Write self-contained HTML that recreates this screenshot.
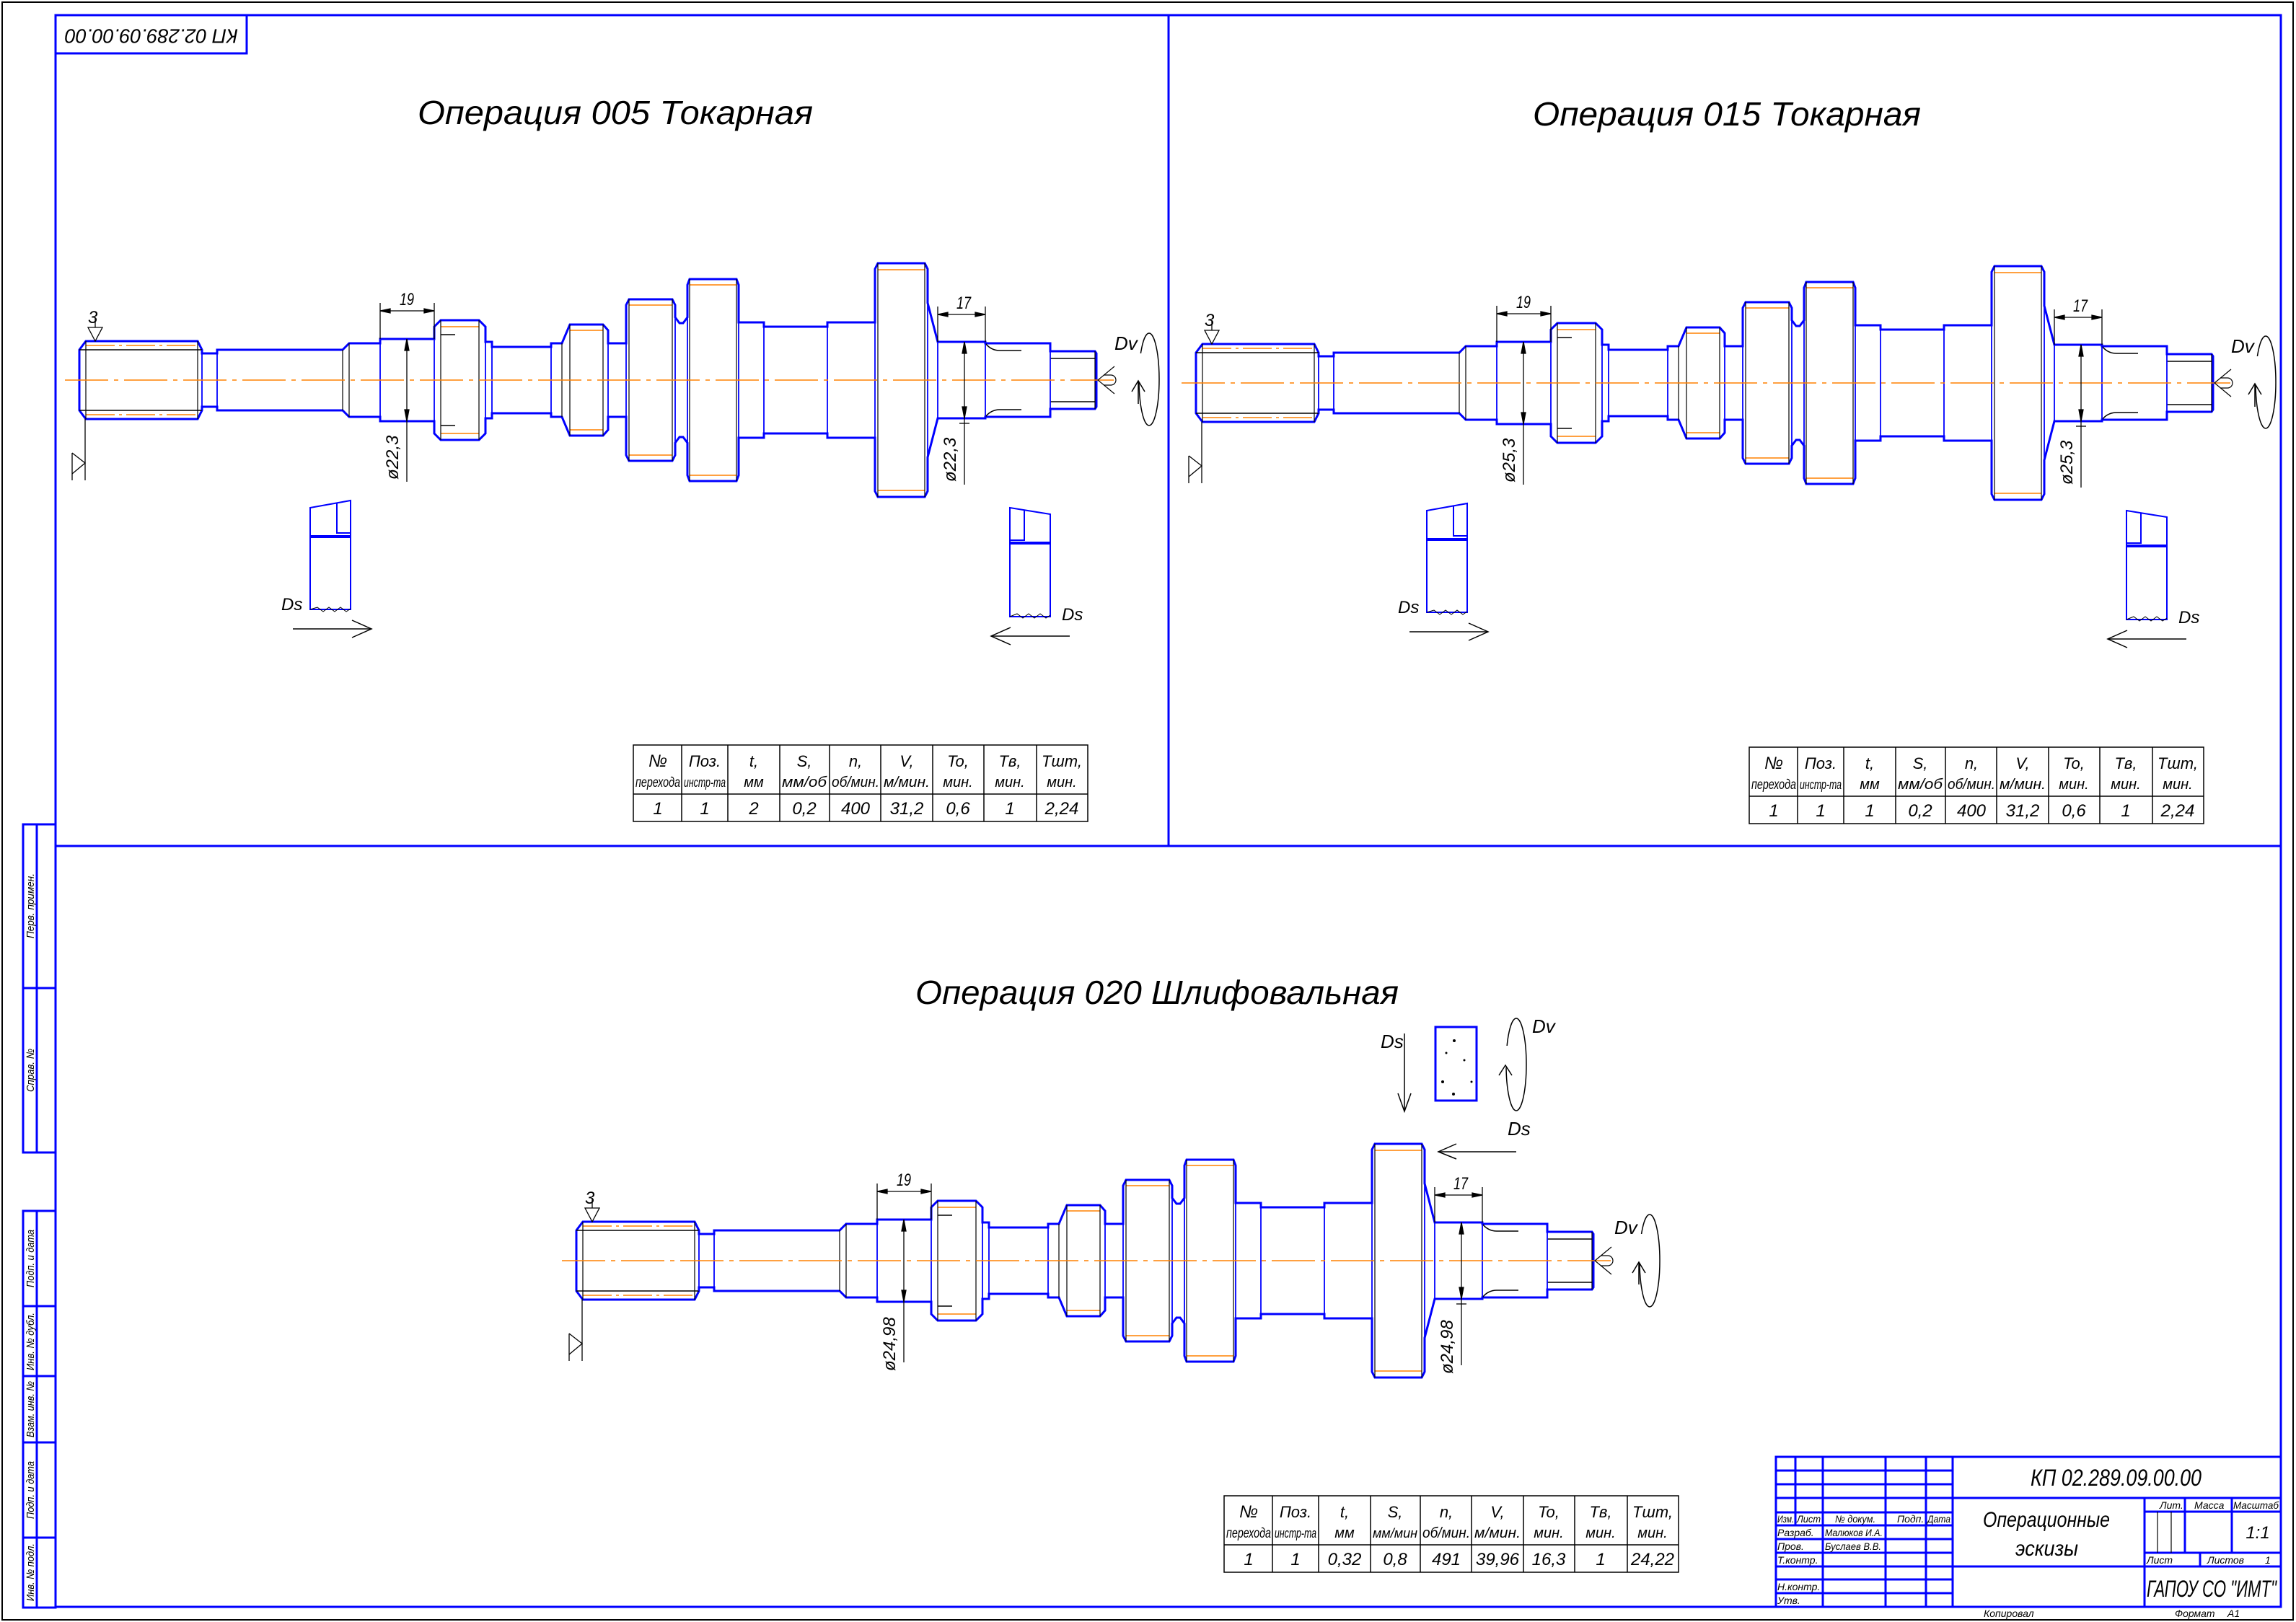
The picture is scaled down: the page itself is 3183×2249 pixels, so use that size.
<!DOCTYPE html>
<html><head><meta charset="utf-8"><style>
html,body{margin:0;padding:0;background:#fff}
svg{display:block}
text{font-family:"Liberation Sans","DejaVu Sans",sans-serif;font-style:italic;fill:#000}
</style></head><body>
<svg width="3183" height="2249" viewBox="0 0 3183 2249" xmlns="http://www.w3.org/2000/svg">
<defs>
<g id="half">
<polyline fill="none" stroke="#0000ff" stroke-width="3" stroke-linejoin="miter" points="110,527 110,485 119,473 274,473 280,485 280,490 301,490 301,485 475,485 484,476 527,476 527,470 602,470 602,453 611,444 664,444 673,453 673,474 682,474 682,481 764,481 764,476 779,476 790,450 836,450 843,458 843,476 868,476 868,423 872,415 932,415 936,423 936,440 942,448 947,448 953,440 953,395 956,387 1021,387 1024,395 1024,447 1059,447 1059,453 1147,453 1147,447 1213,447 1213,373 1217,365 1282,365 1286,373 1286,420 1300,474 1366,474 1366,476 1456,476 1456,487 1518,487 1520,490 1520,527"/>
<line x1="110" y1="485" x2="280" y2="485" stroke="#000" stroke-width="1.5"/>
<line x1="119" y1="479" x2="274" y2="479" stroke="#ff8000" stroke-width="1.5" stroke-dasharray="40,6,4,6"/>
<g stroke="#ff8000" stroke-width="1.5">
<line x1="611" y1="453" x2="664" y2="453"/><line x1="790" y1="458" x2="836" y2="458"/>
<line x1="872" y1="423" x2="932" y2="423"/><line x1="956" y1="395" x2="1021" y2="395"/>
<line x1="1217" y1="374" x2="1282" y2="374"/></g>
<line x1="611" y1="464" x2="631" y2="464" stroke="#000" stroke-width="1.5"/>
<path d="M1366,476 q8,10 20,10 h30" fill="none" stroke="#000" stroke-width="1.5"/>
<line x1="1456" y1="497" x2="1518" y2="497" stroke="#000" stroke-width="1.5"/>
</g>
<g id="shaft">
<use href="#half"/>
<use href="#half" transform="matrix(1 0 0 -1 0 1054)"/>
<g stroke="#000" stroke-width="1.2">
<line x1="119" y1="473" x2="119" y2="581"/><line x1="274" y1="473" x2="274" y2="581"/>
<line x1="475" y1="485" x2="475" y2="569"/><line x1="484" y1="476" x2="484" y2="578"/>
<line x1="611" y1="444" x2="611" y2="610"/><line x1="664" y1="444" x2="664" y2="610"/>
<line x1="779" y1="476" x2="779" y2="578"/><line x1="790" y1="450" x2="790" y2="604"/><line x1="836" y1="450" x2="836" y2="604"/>
<line x1="872" y1="415" x2="872" y2="639"/><line x1="932" y1="415" x2="932" y2="639"/>
<line x1="956" y1="387" x2="956" y2="667"/><line x1="1021" y1="387" x2="1021" y2="667"/>
<line x1="1217" y1="365" x2="1217" y2="689"/><line x1="1282" y1="365" x2="1282" y2="689"/>
<line x1="1518" y1="487" x2="1518" y2="567"/>
</g>
<g stroke="#0000ff" stroke-width="1.8">
<line x1="280" y1="485" x2="280" y2="569"/><line x1="301" y1="485" x2="301" y2="569"/>
<line x1="527" y1="470" x2="527" y2="584"/><line x1="602" y1="453" x2="602" y2="601"/>
<line x1="673" y1="453" x2="673" y2="601"/><line x1="682" y1="474" x2="682" y2="580"/>
<line x1="764" y1="476" x2="764" y2="578"/><line x1="843" y1="458" x2="843" y2="596"/>
<line x1="868" y1="423" x2="868" y2="631"/><line x1="936" y1="423" x2="936" y2="631"/>
<line x1="953" y1="395" x2="953" y2="659"/><line x1="1024" y1="395" x2="1024" y2="659"/>
<line x1="1059" y1="447" x2="1059" y2="607"/><line x1="1147" y1="447" x2="1147" y2="607"/>
<line x1="1213" y1="373" x2="1213" y2="681"/><line x1="1286" y1="373" x2="1286" y2="681"/>
<line x1="1300" y1="474" x2="1300" y2="580"/><line x1="1366" y1="474" x2="1366" y2="580"/>
<line x1="1456" y1="476" x2="1456" y2="578"/><line x1="1520" y1="490" x2="1520" y2="564"/>
</g>
<line x1="90" y1="527" x2="1545" y2="527" stroke="#ff8000" stroke-width="1.5" stroke-dasharray="60,8,6,8"/>
<g stroke="#000" stroke-width="1.3" fill="#000">
<line x1="527" y1="420" x2="527" y2="470"/><line x1="602" y1="420" x2="602" y2="470"/>
<line x1="527" y1="431" x2="602" y2="431"/>
<polygon points="527,431 541,428 541,434"/><polygon points="602,431 588,428 588,434"/>
<line x1="1300" y1="425" x2="1300" y2="474"/><line x1="1366" y1="425" x2="1366" y2="474"/>
<line x1="1300" y1="436" x2="1366" y2="436"/>
<polygon points="1300,436 1314,433 1314,439"/><polygon points="1366,436 1352,433 1352,439"/>
<line x1="564" y1="470" x2="564" y2="668"/>
<polygon points="564,470 561,486 567,486"/><polygon points="564,584 561,568 567,568"/>
<line x1="1337" y1="474" x2="1337" y2="672"/>
<polygon points="1337,474 1334,490 1340,490"/><polygon points="1337,580 1334,564 1340,564"/>
<line x1="1330" y1="587" x2="1344" y2="587"/>
<line x1="132" y1="440" x2="132" y2="454"/>
<line x1="118" y1="581" x2="118" y2="666"/>
<line x1="100" y1="666" x2="100" y2="628"/>
</g>
<polygon points="122,454 142,454 132,473" fill="none" stroke="#000" stroke-width="1.3"/>
<polyline points="100,628 118,642 100,657" fill="none" stroke="#000" stroke-width="1.3"/>
<text x="554" y="423" font-size="24" textLength="20" lengthAdjust="spacingAndGlyphs">19</text>
<text x="1326" y="428" font-size="24" textLength="20" lengthAdjust="spacingAndGlyphs">17</text>
<text x="122" y="448" font-size="24">3</text>
<g fill="none" stroke="#000" stroke-width="1.2"><polyline points="1545,508 1522,527 1545,546"/><path d="M1530,520 l10,0 a7,7 0 0 1 0,14 l-10,0"/></g>
</g>
<g id="tools">
<polygon points="430,704 486,694 486,845 430,845" fill="none" stroke="#0000ff" stroke-width="2"/>
<polyline points="467,697 467,739 486,739" fill="none" stroke="#0000ff" stroke-width="2"/>
<line x1="430" y1="744" x2="486" y2="744" stroke="#0000ff" stroke-width="4"/>
<polyline points="430,845 440,842 448,848 456,842 464,848 472,842 480,848 486,844" fill="none" stroke="#000" stroke-width="1"/>
<line x1="406" y1="872" x2="515" y2="872" stroke="#000" stroke-width="1.5"/>
<polyline points="488,860 515,872 488,884" fill="none" stroke="#000" stroke-width="1.5"/>
<text x="390" y="846" font-size="24">Ds</text>
<polygon points="1400,704 1456,713 1456,855 1400,855" fill="none" stroke="#0000ff" stroke-width="2"/>
<polyline points="1420,707 1420,749 1400,749" fill="none" stroke="#0000ff" stroke-width="2"/>
<line x1="1400" y1="753" x2="1456" y2="753" stroke="#0000ff" stroke-width="4"/>
<polyline points="1400,855 1410,851 1418,857 1426,851 1434,857 1442,851 1450,857 1456,853" fill="none" stroke="#000" stroke-width="1"/>
<line x1="1374" y1="882" x2="1483" y2="882" stroke="#000" stroke-width="1.5"/>
<polyline points="1401,870 1374,882 1401,894" fill="none" stroke="#000" stroke-width="1.5"/>
<text x="1472" y="860" font-size="24">Ds</text>
<ellipse cx="1593" cy="526" rx="14" ry="64" fill="none" stroke="#000" stroke-width="1.5"/>
<rect x="1570" y="490" width="20" height="40" fill="#fff"/>
<polyline points="1569,543 1578,528 1587,543" fill="none" stroke="#000" stroke-width="1.5"/>
<line x1="1578" y1="528" x2="1578" y2="560" stroke="#000" stroke-width="1.5"/>
<text x="1545" y="485" font-size="26">Dv</text>
</g>
<g id="tbl" stroke="#000" stroke-width="1.5" fill="none">
<rect x="0" y="0" width="630" height="106"/>
<line x1="0" y1="68" x2="630" y2="68"/>
<line x1="67" y1="0" x2="67" y2="106"/><line x1="131" y1="0" x2="131" y2="106"/><line x1="203" y1="0" x2="203" y2="106"/>
<line x1="272" y1="0" x2="272" y2="106"/><line x1="343" y1="0" x2="343" y2="106"/><line x1="415" y1="0" x2="415" y2="106"/>
<line x1="486" y1="0" x2="486" y2="106"/><line x1="559" y1="0" x2="559" y2="106"/>
</g>
<g id="thead" font-size="20" text-anchor="middle">
<text x="34" y="30" font-size="24">№</text><text x="34" y="58" font-size="19" textLength="62" lengthAdjust="spacingAndGlyphs">перехода</text>
<text x="99" y="30" font-size="22">Поз.</text><text x="99" y="58" font-size="18" textLength="58" lengthAdjust="spacingAndGlyphs">инстр-та</text>
<text x="167" y="30" font-size="22">t,</text><text x="167" y="58">мм</text>
<text x="308" y="30" font-size="22">n,</text><text x="308" y="58" textLength="66" lengthAdjust="spacingAndGlyphs">об/мин.</text>
<text x="379" y="30" font-size="22">V,</text><text x="379" y="58" textLength="64" lengthAdjust="spacingAndGlyphs">м/мин.</text>
<text x="450" y="30" font-size="22">To,</text><text x="450" y="58">мин.</text>
<text x="522" y="30" font-size="22">Tв,</text><text x="522" y="58">мин.</text>
<text x="594" y="30" font-size="22">Tшт,</text><text x="594" y="58">мин.</text>
</g>
</defs>

<rect x="3" y="3" width="3176" height="2243" fill="none" stroke="#000" stroke-width="2"/>
<rect x="77" y="21" width="3085" height="2207" fill="none" stroke="#0000ff" stroke-width="3"/>
<line x1="1620" y1="21" x2="1620" y2="1173" stroke="#0000ff" stroke-width="3"/>
<line x1="77" y1="1173" x2="3162" y2="1173" stroke="#0000ff" stroke-width="3"/>
<rect x="77" y="21" width="265" height="53" fill="none" stroke="#0000ff" stroke-width="3"/>
<text transform="translate(210,48) rotate(180)" text-anchor="middle" dominant-baseline="middle" font-size="28" textLength="240" lengthAdjust="spacingAndGlyphs">КП 02.289.09.00.00</text>

<g fill="none" stroke="#0000ff" stroke-width="3">
<rect x="32" y="1143" width="45" height="455"/><line x1="51" y1="1143" x2="51" y2="1598"/><line x1="32" y1="1370" x2="77" y2="1370"/>
<rect x="32" y="1679" width="45" height="550"/><line x1="51" y1="1679" x2="51" y2="2229"/>
<line x1="32" y1="1811" x2="77" y2="1811"/><line x1="32" y1="1908" x2="77" y2="1908"/><line x1="32" y1="2000" x2="77" y2="2000"/><line x1="32" y1="2132" x2="77" y2="2132"/>
</g>
<g font-size="15" text-anchor="middle">
<text transform="translate(47,1256) rotate(-90)" textLength="90" lengthAdjust="spacingAndGlyphs">Перв. примен.</text>
<text transform="translate(47,1484) rotate(-90)" textLength="60" lengthAdjust="spacingAndGlyphs">Справ. №</text>
<text transform="translate(47,1745) rotate(-90)" textLength="80" lengthAdjust="spacingAndGlyphs">Подп. и дата</text>
<text transform="translate(47,1860) rotate(-90)" textLength="80" lengthAdjust="spacingAndGlyphs">Инв. № дубл.</text>
<text transform="translate(47,1954) rotate(-90)" textLength="78" lengthAdjust="spacingAndGlyphs">Взам. инв. №</text>
<text transform="translate(47,2066) rotate(-90)" textLength="80" lengthAdjust="spacingAndGlyphs">Подп. и дата</text>
<text transform="translate(47,2180) rotate(-90)" textLength="80" lengthAdjust="spacingAndGlyphs">Инв. № подл.</text>
</g>

<text x="579" y="172" font-size="46" textLength="548" lengthAdjust="spacingAndGlyphs">Операция 005 Токарная</text>
<text x="2125" y="174" font-size="46" textLength="538" lengthAdjust="spacingAndGlyphs">Операция 015 Токарная</text>
<text x="1269" y="1392" font-size="46" textLength="670" lengthAdjust="spacingAndGlyphs">Операция 020 Шлифовальная</text>

<use href="#shaft"/>
<use href="#tools"/>
<text transform="translate(552,665) rotate(-90)" font-size="24">ø22,3</text>
<text transform="translate(1325,668) rotate(-90)" font-size="24">ø22,3</text>

<g transform="translate(1548,4)">
<use href="#shaft"/>
<use href="#tools"/>
<text transform="translate(552,665) rotate(-90)" font-size="24">ø25,3</text>
<text transform="translate(1325,668) rotate(-90)" font-size="24">ø25,3</text>
</g>

<g transform="translate(689,1221)">
<use href="#shaft"/>
<text transform="translate(552,680) rotate(-90)" font-size="24">ø24,98</text>
<text transform="translate(1325,684) rotate(-90)" font-size="24">ø24,98</text>
<ellipse cx="1598" cy="527" rx="14" ry="64" fill="none" stroke="#000" stroke-width="1.5"/>
<rect x="1575" y="490" width="20" height="40" fill="#fff"/>
<polyline points="1574,544 1583,529 1592,544" fill="none" stroke="#000" stroke-width="1.5"/>
<line x1="1583" y1="529" x2="1583" y2="560" stroke="#000" stroke-width="1.5"/>
<text x="1549" y="490" font-size="26">Dv</text>
</g>
<rect x="1990" y="1424" width="57" height="102" fill="none" stroke="#0000ff" stroke-width="3"/>
<g fill="#000"><circle cx="2016" cy="1443" r="2"/><circle cx="2000" cy="1500" r="2"/><circle cx="2015" cy="1517" r="2"/><circle cx="2030" cy="1470" r="1.5"/><circle cx="2005" cy="1460" r="1.5"/><circle cx="2040" cy="1500" r="1.5"/></g>
<line x1="1947" y1="1433" x2="1947" y2="1541" stroke="#000" stroke-width="1.5"/>
<polyline points="1938,1516 1947,1541 1956,1516" fill="none" stroke="#000" stroke-width="1.5"/>
<text x="1914" y="1453" font-size="26">Ds</text>
<ellipse cx="2102" cy="1476" rx="14" ry="64" fill="none" stroke="#000" stroke-width="1.5"/>
<rect x="2080" y="1450" width="12" height="30" fill="#fff"/>
<polyline points="2078,1491 2087,1477 2096,1491" fill="none" stroke="#000" stroke-width="1.5"/>
<text x="2124" y="1432" font-size="26">Dv</text>
<line x1="1994" y1="1597" x2="2102" y2="1597" stroke="#000" stroke-width="1.5"/>
<polyline points="2019,1586 1994,1597 2019,1607" fill="none" stroke="#000" stroke-width="1.5"/>
<text x="2090" y="1574" font-size="26">Ds</text>

<g transform="translate(878,1033)"><use href="#tbl"/><use href="#thead"/>
<text x="237" y="30" font-size="22" text-anchor="middle">S,</text><text x="237" y="58" font-size="20" text-anchor="middle" textLength="62" lengthAdjust="spacingAndGlyphs">мм/об</text>
<g font-size="24" text-anchor="middle"><text x="34" y="96">1</text><text x="99" y="96">1</text><text x="167" y="96">2</text><text x="237" y="96">0,2</text><text x="308" y="96">400</text><text x="379" y="96">31,2</text><text x="450" y="96">0,6</text><text x="522" y="96">1</text><text x="594" y="96">2,24</text></g></g>
<g transform="translate(2425,1036)"><use href="#tbl"/><use href="#thead"/>
<text x="237" y="30" font-size="22" text-anchor="middle">S,</text><text x="237" y="58" font-size="20" text-anchor="middle" textLength="62" lengthAdjust="spacingAndGlyphs">мм/об</text>
<g font-size="24" text-anchor="middle"><text x="34" y="96">1</text><text x="99" y="96">1</text><text x="167" y="96">1</text><text x="237" y="96">0,2</text><text x="308" y="96">400</text><text x="379" y="96">31,2</text><text x="450" y="96">0,6</text><text x="522" y="96">1</text><text x="594" y="96">2,24</text></g></g>
<g transform="translate(1697,2074)"><use href="#tbl"/><use href="#thead"/>
<text x="237" y="30" font-size="22" text-anchor="middle">S,</text><text x="237" y="58" font-size="18" text-anchor="middle" textLength="62" lengthAdjust="spacingAndGlyphs">мм/мин</text>
<g font-size="24" text-anchor="middle"><text x="34" y="96">1</text><text x="99" y="96">1</text><text x="167" y="96">0,32</text><text x="237" y="96">0,8</text><text x="308" y="96">491</text><text x="379" y="96">39,96</text><text x="450" y="96">16,3</text><text x="522" y="96">1</text><text x="594" y="96">24,22</text></g></g>

<g fill="none" stroke="#0000ff" stroke-width="3">
<rect x="2462" y="2020" width="700" height="208"/>
<line x1="2707" y1="2020" x2="2707" y2="2228"/>
<line x1="2489" y1="2020" x2="2489" y2="2115"/>
<line x1="2527" y1="2020" x2="2527" y2="2228"/><line x1="2614" y1="2020" x2="2614" y2="2228"/><line x1="2670" y1="2020" x2="2670" y2="2228"/>
<line x1="2462" y1="2039" x2="2707" y2="2039"/><line x1="2462" y1="2058" x2="2707" y2="2058"/><line x1="2462" y1="2077" x2="2707" y2="2077"/>
<line x1="2462" y1="2097" x2="2707" y2="2097"/><line x1="2462" y1="2115" x2="2707" y2="2115"/><line x1="2462" y1="2134" x2="2707" y2="2134"/>
<line x1="2462" y1="2153" x2="2707" y2="2153"/><line x1="2462" y1="2172" x2="2707" y2="2172"/><line x1="2462" y1="2190" x2="2707" y2="2190"/>
<line x1="2462" y1="2209" x2="2707" y2="2209"/>
<line x1="2707" y1="2077" x2="3162" y2="2077"/><line x1="2707" y1="2172" x2="3162" y2="2172"/>
<line x1="2973" y1="2077" x2="2973" y2="2228"/>
<line x1="3029" y1="2077" x2="3029" y2="2153"/><line x1="3094" y1="2077" x2="3094" y2="2153"/>
<line x1="2973" y1="2096" x2="3162" y2="2096"/><line x1="2973" y1="2153" x2="3162" y2="2153"/>
<line x1="3050" y1="2153" x2="3050" y2="2172"/>
</g>
<g stroke="#000" stroke-width="1.2"><line x1="2991" y1="2096" x2="2991" y2="2153"/><line x1="3010" y1="2096" x2="3010" y2="2153"/></g>
<g font-size="14">
<text x="2464" y="2111" textLength="23" lengthAdjust="spacingAndGlyphs">Изм.</text><text x="2491" y="2111" textLength="33" lengthAdjust="spacingAndGlyphs">Лист</text><text x="2544" y="2111" textLength="56" lengthAdjust="spacingAndGlyphs">№ докум.</text><text x="2630" y="2111">Подп.</text><text x="2672" y="2111" textLength="32" lengthAdjust="spacingAndGlyphs">Дата</text>
<text x="2464" y="2130">Разраб.</text><text x="2530" y="2130" textLength="80" lengthAdjust="spacingAndGlyphs">Малюков И.А.</text>
<text x="2464" y="2149">Пров.</text><text x="2530" y="2149" textLength="78" lengthAdjust="spacingAndGlyphs">Буслаев В.В.</text>
<text x="2464" y="2168">Т.контр.</text>
<text x="2464" y="2205">Н.контр.</text>
<text x="2464" y="2224">Утв.</text>
<text x="2994" y="2092">Лит.</text><text x="3042" y="2092">Масса</text><text x="3096" y="2092" textLength="63" lengthAdjust="spacingAndGlyphs">Масштаб</text>
<text x="2976" y="2168">Лист</text><text x="3060" y="2168">Листов</text><text x="3140" y="2168">1</text>
<text x="2750" y="2242">Копировал</text><text x="3015" y="2242">Формат</text><text x="3088" y="2242">А1</text>
</g>
<text x="2815" y="2060" font-size="32" textLength="237" lengthAdjust="spacingAndGlyphs">КП 02.289.09.00.00</text>
<text x="2749" y="2117" font-size="30" textLength="176" lengthAdjust="spacingAndGlyphs">Операционные</text>
<text x="2794" y="2157" font-size="30" textLength="87" lengthAdjust="spacingAndGlyphs">эскизы</text>
<text x="3130" y="2133" font-size="24" text-anchor="middle">1:1</text>
<text x="2976" y="2214" font-size="32" textLength="180" lengthAdjust="spacingAndGlyphs">ГАПОУ СО "ИМТ"</text>
</svg>
</body></html>
